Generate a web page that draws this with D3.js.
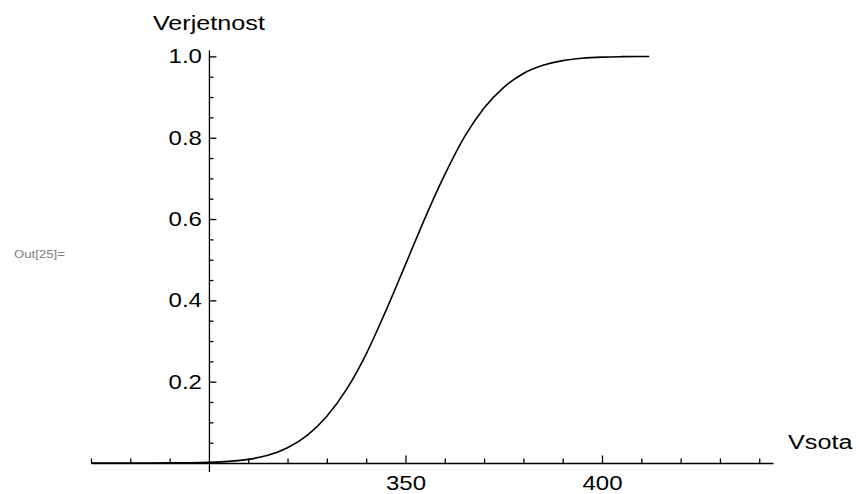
<!DOCTYPE html>
<html>
<head>
<meta charset="utf-8">
<script src="https://cdn.jsdelivr.net/npm/d3@7"></script>
<style>
    body { margin: 0; background: #fff; }
    text { font-family: "Liberation Sans", Arial, sans-serif; }
</style>
</head>
<body>
<div id="cdf-plot"></div>
<script>
// values
var vSums = [270, 280, 285, 290, 295, 300, 305, 310, 315, 320, 325, 330, 335, 340, 345,
    350, 355, 360, 365, 370, 375, 380, 385, 390, 395, 400, 405, 410, 412];
var vProbabilities = [0.0000, 0.0000, 0.0001, 0.0002, 0.0006, 0.0016, 0.0039, 0.0089, 0.0188,
    0.0375, 0.068, 0.115, 0.181, 0.268, 0.374, 0.488, 0.603, 0.709, 0.802, 0.873, 0.924,
    0.958, 0.978, 0.9896, 0.9953, 0.9981, 0.9993, 0.9998, 0.9999];
var vXTickLabels = [350, 400];
var vYTickLabels = [0.2, 0.4, 0.6, 0.8, 1.0];
var vXMinorTicks = [270, 280, 290, 310, 320, 330, 340, 360, 370, 380, 390, 410, 420, 430, 440];
var vYMinorTicks = [0.05, 0.1, 0.15, 0.25, 0.3, 0.35, 0.45, 0.5, 0.55, 0.65, 0.7, 0.75, 0.85, 0.9, 0.95];

var vWidth = 859, vHeight = 494;
var vStretch = 1.2; // the picture's text is a little wider than plain Arial

var svg = d3.select("#cdf-plot")
    .append("svg")
    .attr("width", vWidth)
    .attr("height", vHeight);

var vX = d3.scaleLinear().domain([270, 443.5]).range([91, 773]);
var vY = d3.scaleLinear().domain([-0.0209, 1.0157]).range([471.5, 50]);

// x axis crosses at y = 0, y axis at x = 300
var vXAxisG = svg.append("g")
    .attr("transform", "translate(0," + vY(0) + ")")
    .call(d3.axisBottom(vX).tickValues(vXTickLabels).tickSizeInner(-7.5).tickSizeOuter(0).tickPadding(12.5));
svg.append("g")
    .attr("transform", "translate(0," + vY(0) + ")")
    .call(d3.axisBottom(vX).tickValues(vXMinorTicks).tickSizeInner(-4.5).tickSizeOuter(0).tickFormat(""))
    .select(".domain").remove();

var vYAxisG = svg.append("g")
    .attr("transform", "translate(" + vX(300) + ",0)")
    .call(d3.axisLeft(vY).tickValues(vYTickLabels).tickSizeInner(-7.5).tickSizeOuter(0).tickPadding(7)
        .tickFormat(d3.format(".1f")));
svg.append("g")
    .attr("transform", "translate(" + vX(300) + ",0)")
    .call(d3.axisLeft(vY).tickValues(vYMinorTicks).tickSizeInner(-4.5).tickSizeOuter(0).tickFormat(""))
    .select(".domain").remove();

svg.selectAll(".domain, .tick line")
    .attr("stroke", "#000")
    .attr("stroke-width", 1.3);

vXAxisG.selectAll("text")
    .attr("font-size", 20)
    .attr("font-family", "Liberation Sans, Arial, sans-serif")
    .attr("fill", "#000")
    .attr("transform", "scale(" + vStretch + ",1)");

vYAxisG.selectAll("text")
    .attr("font-size", 20)
    .attr("font-family", "Liberation Sans, Arial, sans-serif")
    .attr("fill", "#000")
    .attr("x", -7 / vStretch)
    .attr("transform", "scale(" + vStretch + ",1)");

// the curve
var vLine = d3.line()
    .x(function (aItem, aIdx) { return vX(vSums[aIdx]); })
    .y(function (aItem) { return vY(aItem); })
    .curve(d3.curveMonotoneX);

svg.append("path")
    .datum(vProbabilities)
    .attr("fill", "none")
    .attr("stroke", "#000")
    .attr("stroke-width", 1.6)
    .attr("stroke-linejoin", "round")
    .attr("d", vLine);

// axis labels
svg.append("text")
    .attr("transform", "translate(" + vX(300) + ",30) scale(" + vStretch + ",1)")
    .attr("text-anchor", "middle")
    .attr("font-size", 21)
    .text("Verjetnost");

svg.append("text")
    .attr("transform", "translate(788,449) scale(" + vStretch + ",1)")
    .attr("font-size", 21)
    .text("Vsota");

svg.append("text")
    .attr("transform", "translate(14,258) scale(" + vStretch + ",1)")
    .attr("font-size", 11)
    .attr("fill", "#808080")
    .text("Out[25]=");
</script>
</body>
</html>
